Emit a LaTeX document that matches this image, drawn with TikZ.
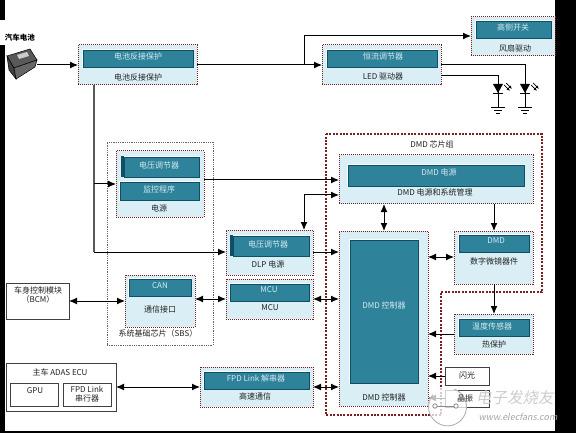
\documentclass[tikz,border=0pt]{standalone}
\usepackage{fontspec}
\setmainfont{Noto Sans CJK SC}
\newfontfamily\wmfont[FakeSlant=0.2]{Noto Sans CJK SC}
\usetikzlibrary{arrows.meta,calc}
\definecolor{tealbox}{HTML}{2E8299}
\definecolor{tealedge}{HTML}{0E4F66}
\definecolor{paleblue}{HTML}{D9EEF5}
\definecolor{redDot}{HTML}{7A1F1F}
\definecolor{paletext}{HTML}{D5EBF2}
\definecolor{inktext}{HTML}{222222}
\newcommand{\bx}[6]{\node[#2,anchor=north west,minimum width=#5pt,minimum height=#6pt,inner sep=0pt,outer sep=0pt] (#1) at (#3,#4) {};}
\newcommand{\tx}[5]{\node[#2] (#1) at (#3,#4) {#5};}
\newcommand{\ledsym}[2]{%
  \coordinate (#1) at (#2,84);
  \fill[black] (#2-5,84) -- (#2+5,84) -- (#2,93) -- cycle;
  \draw[line width=.9pt] (#2-5,93.5) -- (#2+5,93.5);
  \draw[line width=.9pt] (#2,84) -- (#2,107);
  \draw[line width=.9pt] (#2-7,107) -- (#2+7,107);
  \draw[line width=.9pt] (#2-4,110) -- (#2+4,110);
  \draw[line width=.9pt] (#2-2,113) -- (#2+2,113);
  \draw[line width=.7pt,-{Latex[length=3.5pt,width=3pt]}] (#2+6,85) -- (#2+12,91);
  \draw[line width=.7pt,-{Latex[length=3.5pt,width=3pt]}] (#2+8,83) -- (#2+14,89);
}
\tikzset{
  x=1pt,y=-1pt,
  block/.style={fill=paleblue,draw=redDot,line width=1pt,densely dotted},
  tealrect/.style={fill=tealbox,draw=tealedge,line width=.9pt,preaction={draw=white,line width=2.6pt}},
  tealback/.style={fill=tealedge},
  outerdot/.style={draw=black!60,line width=.8pt,densely dotted},
  chipset/.style={draw=redDot,line width=1.4pt,dash pattern=on 2pt off 1.4pt},
  plainbox/.style={fill=white,draw=black!75,line width=1pt},
  lbl/.style={font=\fontsize{8}{9.5}\selectfont,text=inktext,inner sep=0pt,align=center},
  tlbl/.style={font=\fontsize{8}{9.5}\selectfont,text=paletext,inner sep=0pt},
  wire/.style={line width=1pt,black},
  arr/.style={wire,-{Latex[length=8pt,width=7pt]}},
  biarr/.style={wire,{Latex[length=8pt,width=7pt]}-{Latex[length=8pt,width=7pt]}},
  trunk/.style={line width=1.3pt,black!65},
}
\begin{document}
\begin{tikzpicture}
\useasboundingbox (0,0) rectangle (576,433);
% black bars of the scan
\fill[black] (0,0) rectangle (5,20);
\fill[black] (0,45) rectangle (5,433);
\fill[black] (555,0) rectangle (576,433);
\fill[black] (0,431) rectangle (576,433);

% group frames
\bx{sbsframe}{outerdot}{107}{142}{106}{203}
\draw[chipset] (326,134) -- (542,134) -- (542,292) -- (441,292) -- (441,415) -- (326,415) -- cycle;
\tx{chiptitle}{lbl}{432}{144}{DMD 芯片组}

% battery
\coordinate (batt) at (37,65);
\fill[black!65,draw=black,line width=.5pt] (7,56) -- (30,49) -- (37,60) -- (14,68) -- cycle;
\fill[black!75,draw=black,line width=.5pt] (7,56) -- (14,68) -- (16,79) -- (9,70) -- cycle;
\fill[black!60,draw=black,line width=.5pt] (14,68) -- (37,60) -- (35,67) -- (16,79) -- cycle;
\fill[black!20] (17,55) -- (27,52) -- (29,56) -- (19,59) -- cycle;
\tx{batttext}{lbl,font=\fontsize{7.5}{9}\selectfont\bfseries,text=black}{20}{38}{汽车电池}

% reverse protection
\bx{rev}{block}{78}{45}{119}{40}
\bx{revt}{tealrect}{83}{50}{110}{17}
\tx{revta}{tlbl}{138}{56}{电池反接保护}
\tx{revtb}{lbl}{138}{77}{电池反接保护}

% fan drive
\bx{fan}{block}{471}{17}{84}{39}
\bx{fant}{tealrect}{476}{21}{75}{17}
\tx{fanta}{tlbl}{513}{27}{高侧开关}
\tx{fantb}{lbl}{515}{48}{风扇驱动}

% LED driver
\bx{led}{block}{322}{45}{119}{40}
\bx{ledt}{tealrect}{327}{50}{110}{17}
\tx{ledta}{tlbl}{383}{56}{恒流调节器}
\tx{ledtb}{lbl}{383}{77}{LED 驱动器}
\ledsym{ledone}{498}
\ledsym{ledtwo}{525}

% power
\bx{pwr}{block}{116}{151}{88}{66}
\bx{pwrt}{tealrect}{124}{157}{75}{20}
\bx{pwrb}{tealback}{120.5}{156}{3}{21}
\bx{pwrm}{tealrect}{120}{182}{79}{18}
\tx{pwrta}{tlbl}{159}{165}{电压调节器}
\tx{pwrtb}{tlbl}{159}{189}{监控程序}
\tx{pwrtc}{lbl}{159}{208}{电源}

% SBS
\bx{can}{block}{125}{275}{70}{52}
\bx{cant}{tealrect}{129}{279}{62}{17}
\tx{canta}{tlbl}{160}{285.5}{CAN}
\tx{cantb}{lbl}{160}{309}{通信接口}
\tx{sbstext}{lbl}{158}{333}{系统基础芯片（SBS）}

% DLP power
\bx{dlp}{block}{226}{230}{87}{45}
\bx{dlpt}{tealrect}{233}{236}{76}{20}
\bx{dlpb}{tealback}{229.5}{235}{3}{21}
\tx{dlpta}{tlbl}{268}{244}{电压调节器}
\tx{dlptb}{lbl}{268}{264}{DLP 电源}

% MCU
\bx{mcu}{block}{226}{279}{87}{40}
\bx{mcut}{tealrect}{230}{284}{79}{17}
\tx{mcuta}{tlbl}{269}{289.5}{MCU}
\tx{mcutb}{lbl}{270}{308}{MCU}

% FPD
\bx{fpd}{block}{200}{367}{113}{40}
\bx{fpdt}{tealrect}{204}{372}{105}{17}
\tx{fpdta}{tlbl}{256}{378}{FPD Link 解串器}
\tx{fpdtb}{lbl}{255}{396}{高速通信}

% BCM
\bx{bcm}{plainbox}{6}{283}{63}{36}
\tx{bcmt}{lbl}{38}{295}{车身控制模块\\（BCM）}

% ADAS ECU
\bx{ecu}{plainbox}{6}{363}{110}{48}
\tx{ecut}{lbl}{60}{372}{主车 ADAS ECU}
\bx{gpu}{plainbox}{10}{383}{48}{23}
\tx{gput}{lbl}{35}{391}{GPU}
\bx{ser}{plainbox}{63}{383}{48}{23}
\tx{sert}{lbl}{87}{394}{FPD Link\\串行器}

% DMD power
\bx{dmdp}{block}{339}{155}{194}{49}
\bx{dmdpt}{tealrect}{348}{165}{176}{21}
\tx{dmdpta}{tlbl}{439}{172}{DMD 电源}
\tx{dmdptb}{lbl}{435}{192}{DMD 电源和系统管理}

% DMD controller
\bx{ctl}{block}{339}{231}{89}{175}
\bx{ctlt}{tealrect}{350}{240}{68}{143}
\tx{ctlta}{tlbl}{384}{305}{DMD 控制器}
\tx{ctltb}{lbl}{384}{397}{DMD 控制器}

% DMD device
\bx{dmd}{block}{454}{231}{79}{53}
\bx{dmdt}{tealrect}{459}{235}{70}{17}
\tx{dmdta}{tlbl}{496}{241}{DMD}
\tx{dmdtb}{lbl}{494}{261}{数字微镜器件}

% thermal
\bx{thm}{block}{454}{314}{79}{40}
\bx{thmt}{tealrect}{459}{319}{70}{17}
\tx{thmta}{tlbl}{492}{326}{温度传感器}
\tx{thmtb}{lbl}{494}{344}{热保护}

% flash and crystal
\bx{flash}{plainbox}{445}{367}{44}{18}
\tx{flasht}{lbl}{467}{375}{闪光}
\bx{xtal}{plainbox}{445}{390}{44}{17}

% connectors
\draw[arr] (batt) -- (rev.west |- batt);
\draw[arr] (rev.east |- batt) -- (led.west |- batt);
\draw[wire] (304,65) -- (304,36);
\draw[arr] (304,36) -- (fan.west |- 0,36);
\draw[trunk] (rev.south -| 94,0) -- (94,252);
\draw[arr] (94,252) -- (dlp.west |- 0,252);
\draw[arr] (94,184) -- (pwr.west |- 0,184);
\draw[wire] (led.east |- 0,65) -| (ledtwo);
\draw[wire] (led.east |- 0,76) -| (ledone);
\draw[arr] (pwr.east |- 0,180) -- (dmdp.west |- 0,180);
\draw[arr] (304,195) -- (dmdp.west |- 0,195);
\draw[arr] (304,195) -- (dlp.north -| 304,0);
\draw[arr] (dlp.east |- 0,252) -- (ctl.west |- 0,252);
\draw[biarr] (mcu.east |- 0,299) -- (ctl.west |- 0,299);
\draw[biarr] (fpd.east |- 0,387) -- (ctl.west |- 0,387);
\draw[biarr] (can.east |- 0,299) -- (mcu.west |- 0,299);
\draw[biarr] (bcm.east |- 0,301) -- (can.west |- 0,301);
\draw[biarr] (ecu.east |- 0,387) -- (fpd.west |- 0,387);
\draw[biarr] (dmdp.south -| 384,0) -- (ctl.north -| 384,0);
\draw[arr] (dmdp.south -| 494,0) -- (dmd.north -| 494,0);
\draw[biarr] (ctl.east |- 0,257) -- (dmd.west |- 0,257);
\draw[arr] (dmd.south -| 494,0) -- (thm.north -| 494,0);
\draw[arr] (thm.west |- 0,334) -- (ctl.east |- 0,334);
\draw[arr] (flash.west |- 0,376) -- (ctl.east |- 0,376);
\draw[arr] (xtal.west |- 0,398) -- (ctl.east |- 0,398);

% watermark
\fill[white,opacity=.75] (447,406) circle (19);
\draw[black!30,line width=.9pt] (454,389) arc (-70:220:19);
\draw[black!45,line width=.8pt] (435,406) -- (456,406);
\draw[black!45,fill=white,line width=.8pt] (435,406) circle (2.2);
\draw[black!45,fill=white,line width=.8pt] (456,406) circle (2.2);
\tx{xtalt}{lbl}{465}{398}{晶振}
\node[font=\fontsize{15.5}{18}\selectfont\wmfont,text=black!20,inner sep=0pt,anchor=west] (wma) at (476,398) {电子发烧友};
\node[font=\fontsize{9}{10}\selectfont\wmfont,text=black!35,inner sep=0pt] (wmb) at (518,416.5) {www.elecfans.com};
\end{tikzpicture}
\end{document}
